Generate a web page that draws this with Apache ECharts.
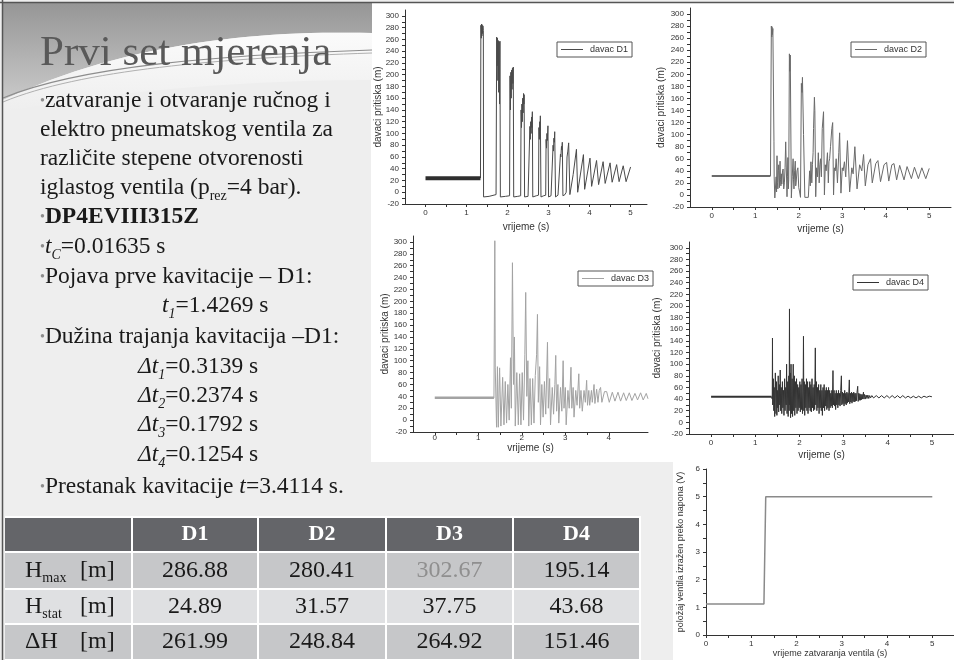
<!DOCTYPE html>
<html>
<head>
<meta charset="utf-8">
<title>Prvi set mjerenja</title>
<script src="https://cdn.jsdelivr.net/npm/echarts@6.0.0/dist/echarts.min.js"></script>
<style>
  html, body { margin: 0; padding: 0; background: #eeeeee; }
  #main { width: 954px; height: 660px; }
</style>
</head>
<body>
<div id="main"></div>
<script>
// ---- values ----
const legendNames = ['davac D1', 'davac D2', 'davac D3', 'davac D4'];

// static head before the valve closes (t, head in m)
const d1Static = [[0, 24], [1.34, 24]];
const d2Static = [[0, 31.5], [1.35, 31.5]];
const d3Static = [[0, 37.5], [1.36, 37.5]];
const d4Static = [[0, 44], [1.37, 44]];

// transient after closing, peaks / troughs
const d1Points = [
  [1.34, 24], [1.35, 284], [1.36, 262], [1.365, 286], [1.375, 266], [1.38, 285], [1.39, 270], [1.40, 283], [1.41, 275],
  [1.415, -8], [1.55, -7], [1.72, -4],
  [1.735, 264], [1.745, 215], [1.755, 262], [1.765, 190], [1.775, 258], [1.785, 170], [1.795, 256], [1.805, 150], [1.815, 257],
  [1.825, -8], [1.95, -7], [2.05, -6],
  [2.06, 198], [2.07, 140], [2.08, 204], [2.09, 160], [2.10, 208], [2.11, 175], [2.12, 211], [2.13, 185], [2.14, 213],
  [2.15, -8], [2.25, -7], [2.32, -6],
  [2.33, 140], [2.34, 110], [2.35, 150], [2.36, 120], [2.37, 160], [2.38, 135], [2.39, 168], [2.40, 150], [2.405, 166],
  [2.415, -8], [2.50, -7], [2.535, -6],
  [2.545, 112], [2.555, 90], [2.565, 120], [2.575, 100], [2.585, 128], [2.595, 110], [2.605, 137],
  [2.615, -8], [2.70, -6], [2.755, -5],
  [2.765, 110], [2.775, 90], [2.785, 120], [2.795, 105], [2.80, 130],
  [2.815, -8], [2.88, -6], [2.93, -5],
  [2.94, 90], [2.95, 75], [2.96, 100], [2.97, 88], [2.985, 113],
  [3.00, -8], [3.06, -6], [3.10, -4],
  [3.11, 80], [3.12, 70], [3.13, 92], [3.14, 85], [3.15, 103],
  [3.17, -8], [3.23, -5], [3.27, -2],
  [3.29, 65], [3.30, 60], [3.315, 78], [3.325, 72], [3.335, 85],
  [3.35, -6], [3.40, -4], [3.43, 0],
  [3.45, 60], [3.47, 70], [3.49, 84], [3.52, -4],
  [3.60, 30], [3.68, 73], [3.71, 0],
  [3.85, 64], [3.88, 5],
  [4.01, 58], [4.05, 10],
  [4.17, 54], [4.22, 13],
  [4.33, 52], [4.38, 15],
  [4.50, 50], [4.55, 17],
  [4.66, 47], [4.72, 18],
  [4.82, 45], [4.89, 18],
  [5.0, 43]
];

const d2Points = [
  [1.35, 31.5], [1.365, 30], [1.37, 280], [1.38, 262], [1.385, 279], [1.395, 266], [1.405, 276], [1.43, 88], [1.435, 30],
  [1.45, -5], [1.47, -4], [1.48, 30], [1.49, 5], [1.50, 65], [1.51, 20], [1.52, 10], [1.53, 40], [1.54, 50], [1.555, 12],
  [1.57, 56], [1.58, 25], [1.59, 15], [1.60, 35], [1.61, 18], [1.625, 38], [1.64, 43], [1.655, 10], [1.67, 20], [1.685, 45],
  [1.70, 88], [1.73, -3], [1.74, 30], [1.75, 62], [1.76, 10], [1.77, 25], [1.785, 234], [1.795, 205], [1.805, 232], [1.83, -5],
  [1.85, 30], [1.87, 60], [1.88, 25], [1.89, 10], [1.905, 40], [1.92, 56], [1.93, 15], [1.94, 20], [1.96, 40], [1.98, 45],
  [2.00, 12], [2.02, 5], [2.04, -4],
  [2.06, 185], [2.075, 170], [2.085, 195], [2.11, 100], [2.14, -4], [2.22, -4],
  [2.25, 40], [2.265, 15], [2.28, 55], [2.30, 20], [2.315, 50], [2.33, 70], [2.34, 110], [2.36, 162], [2.37, 140], [2.39, -3],
  [2.41, 45], [2.43, 30], [2.45, 70], [2.47, 20], [2.485, 50], [2.50, 60], [2.52, 30], [2.54, 110], [2.57, 138], [2.59, 0],
  [2.61, 50], [2.63, 40], [2.66, 70], [2.68, 20], [2.695, 55], [2.71, 60], [2.73, 80], [2.76, 110], [2.78, 120], [2.80, 0],
  [2.82, 45], [2.84, 40], [2.86, 60], [2.89, 20], [2.92, 70], [2.94, 103], [2.97, 3],
  [3.00, 45], [3.02, 40], [3.05, 55], [3.08, 30], [3.12, 90], [3.14, 88], [3.17, 5],
  [3.22, 45], [3.25, 35], [3.29, 80], [3.31, 78], [3.34, 10],
  [3.40, 50], [3.45, 40], [3.49, 67], [3.53, 15],
  [3.59, 50], [3.65, 60], [3.69, 20],
  [3.77, 52], [3.82, 57], [3.88, 22],
  [3.96, 50], [4.02, 54], [4.07, 23],
  [4.14, 50], [4.19, 52], [4.25, 25],
  [4.32, 49], [4.36, 51], [4.42, 25],
  [4.49, 47], [4.53, 48], [4.59, 27],
  [4.66, 46], [4.69, 47], [4.75, 27],
  [4.83, 45], [4.86, 46], [4.92, 27],
  [5.0, 44]
];

const d3Points = [
  [1.36, 37], [1.38, 302], [1.39, 88], [1.42, -12], [1.44, 90], [1.46, -12], [1.49, 88], [1.52, -10], [1.56, 72],
  [1.59, -8], [1.62, 65], [1.65, -5], [1.68, 60], [1.71, 0], [1.74, 105], [1.76, 20], [1.785, 265], [1.81, 60],
  [1.83, 140], [1.85, -10], [1.885, 80], [1.92, -8], [1.95, 78], [1.98, -8], [2.01, 80], [2.04, 0], [2.07, 110],
  [2.09, 215], [2.115, 40], [2.14, 100], [2.16, -10], [2.19, 70], [2.22, -8], [2.25, 70], [2.28, -5], [2.31, 75],
  [2.34, 110], [2.36, 178], [2.38, 30], [2.41, 90], [2.43, -8], [2.46, 60], [2.49, 5], [2.52, 65], [2.55, 10],
  [2.59, 131], [2.61, 20], [2.64, 70], [2.66, -8], [2.70, 55], [2.73, 10], [2.76, 60], [2.78, 109], [2.80, 15],
  [2.83, 60], [2.85, -5], [2.89, 55], [2.92, 15], [2.95, 100], [2.97, 20], [3.00, 55], [3.02, -8], [3.06, 50],
  [3.09, 20], [3.13, 89], [3.15, 20], [3.18, 55], [3.20, 5], [3.24, 50], [3.27, 25], [3.31, 78], [3.33, 20],
  [3.36, 50], [3.39, 15], [3.43, 50], [3.46, 30], [3.49, 67], [3.51, 25], [3.54, 50], [3.56, 25], [3.60, 50],
  [3.62, 30], [3.66, 60], [3.68, 28], [3.72, 52], [3.75, 30], [3.78, 50], [3.81, 55], [3.84, 30], [3.90, 48],
  [3.95, 48], [4.01, 30], [4.08, 47], [4.14, 32], [4.21, 47], [4.27, 32], [4.34, 46], [4.40, 33], [4.47, 46],
  [4.53, 33], [4.60, 45], [4.66, 34], [4.73, 46], [4.79, 34], [4.86, 45], [4.90, 36]
];

const d4Points = [
  [1.37, 44], [1.385, 40], [1.39, 145], [1.395, 30], [1.41, 75], [1.42, 20], [1.43, 60], [1.44, 10], [1.455, 85],
  [1.47, 15], [1.48, 70], [1.49, 12], [1.50, 55], [1.51, 25], [1.52, 80], [1.53, 18], [1.545, 65], [1.555, 30],
  [1.565, 90], [1.575, 20], [1.59, 60], [1.60, 15], [1.615, 70], [1.625, 25], [1.64, 55], [1.65, 12], [1.665, 75],
  [1.675, 20], [1.69, 60], [1.70, 30], [1.71, 100], [1.72, 15], [1.735, 70], [1.745, 10], [1.76, 80], [1.768, 20],
  [1.775, 195], [1.782, 30], [1.79, 85], [1.80, 8], [1.81, 100], [1.82, 15], [1.835, 75], [1.845, 10], [1.86, 100],
  [1.87, 20], [1.885, 80], [1.895, 12], [1.91, 70], [1.92, 25], [1.935, 75], [1.945, 15], [1.96, 65], [1.97, 20],
  [1.985, 60], [1.995, 25], [2.01, 70], [2.02, 18], [2.035, 65], [2.045, 22], [2.06, 75], [2.07, 15], [2.085, 60],
  [2.092, 148], [2.10, 20], [2.11, 70], [2.12, 12], [2.135, 65], [2.145, 25], [2.16, 75], [2.17, 20], [2.185, 70],
  [2.195, 15], [2.21, 60], [2.22, 25], [2.235, 70], [2.245, 20], [2.26, 65], [2.27, 18], [2.285, 75], [2.295, 25],
  [2.31, 60], [2.32, 20], [2.335, 65], [2.345, 22], [2.36, 128], [2.37, 30], [2.385, 70], [2.395, 20], [2.41, 60],
  [2.42, 25], [2.435, 65], [2.445, 15], [2.46, 55], [2.47, 25], [2.485, 65], [2.495, 20], [2.51, 55], [2.52, 12],
  [2.535, 60], [2.545, 25], [2.56, 65], [2.57, 20], [2.585, 55], [2.595, 28], [2.61, 60], [2.62, 22], [2.635, 55],
  [2.645, 25], [2.66, 60], [2.67, 20], [2.685, 55], [2.695, 25], [2.71, 50], [2.72, 28], [2.735, 55], [2.745, 25],
  [2.76, 89], [2.77, 30], [2.785, 55], [2.795, 28], [2.81, 50], [2.82, 22], [2.835, 55], [2.845, 30], [2.86, 50],
  [2.87, 25], [2.885, 55], [2.895, 30], [2.91, 50], [2.92, 28], [2.935, 55], [2.95, 80], [2.96, 30], [2.975, 52],
  [2.985, 32], [3.00, 50], [3.01, 28], [3.025, 55], [3.035, 32], [3.05, 50], [3.06, 30], [3.075, 52], [3.085, 33],
  [3.10, 50], [3.11, 35], [3.13, 73], [3.14, 32], [3.155, 50], [3.165, 35], [3.18, 52], [3.19, 33], [3.205, 50],
  [3.215, 36], [3.23, 52], [3.24, 35], [3.255, 50], [3.265, 36], [3.28, 50], [3.29, 37], [3.305, 52], [3.32, 62],
  [3.33, 36], [3.345, 50], [3.355, 38], [3.37, 49], [3.38, 38], [3.395, 48], [3.405, 39], [3.42, 48], [3.43, 40],
  [3.45, 52], [3.46, 40], [3.475, 48], [3.49, 40], [3.51, 47], [3.53, 41], [3.55, 47], [3.57, 41], [3.59, 46],
  [3.61, 42], [3.64, 46], [3.68, 42], [3.74, 46], [3.80, 42], [3.86, 46], [3.92, 42], [3.98, 46], [4.04, 42],
  [4.10, 46], [4.16, 42], [4.22, 46], [4.28, 42], [4.34, 46], [4.40, 42], [4.46, 45], [4.52, 42], [4.58, 45],
  [4.64, 42], [4.70, 45], [4.76, 42], [4.82, 45], [4.88, 43], [4.94, 45], [5.0, 44]
];

// valve position signal (V)
const valveVoltage = [[0, 1.12], [1.28, 1.12], [1.30, 1.15], [1.32, 5.0], [5.0, 5.0]];

// axis tick labels
const pressureLabels = [-20, 0, 20, 40, 60, 80, 100, 120, 140, 160, 180, 200, 220, 240, 260, 280, 300];
const timeLabels = [0, 1, 2, 3, 4, 5];
const timeLabelsD3 = [0, 1, 2, 3, 4];
const voltageLabels = [0, 1, 2, 3, 4, 5, 6];

// table
const tableColumns = ['D1', 'D2', 'D3', 'D4'];
const tableRowLabels = ['H{s|max}', 'H{s|stat}', 'ΔH'];
const hMax = [286.88, 280.41, 302.67, 195.14];
const hStat = [24.89, 31.57, 37.75, 43.68];
const deltaH = [261.99, 248.84, 264.92, 151.46];

// slide text
const slideTitle = 'Prvi set mjerenja';
const bulletText = [
  '{b|•}zatvaranje i otvaranje ručnog i',
  'elektro pneumatskog ventila za',
  'različite stepene otvorenosti',
  'iglastog ventila (p{s|rez}=4 bar).',
  '{b|•}{bd|DP4EVIII315Z}',
  '{b|•}{i|t}{si|C}=0.01635 s',
  '{b|•}Pojava prve kavitacije – D1:',
  '{i|t}{si|1}=1.4269 s',
  '{b|•}Dužina trajanja kavitacija –D1:',
  '{i|Δt}{si|1}=0.3139 s',
  '{i|Δt}{si|2}=0.2374 s',
  '{i|Δt}{si|3}=0.1792 s',
  '{i|Δt}{si|4}=0.1254 s',
  '{b|•}Prestanak kavitacije {i|t}=3.4114 s.'
];

// ---- layout ----
const SERIF = '"Liberation Serif", "Times New Roman", serif';
const SANS = '"Liberation Sans", Arial, sans-serif';
const bulletPos = [[40, 101], [40, 130], [40, 159], [40, 188], [40, 217], [40, 247], [40, 277],
  [162, 306], [40, 337], [138, 367], [138, 396], [138, 425], [138, 455], [40, 487]];

const grids = [
  { left: 405, top: 10, width: 242, height: 194 },
  { left: 690, top: 8, width: 261, height: 199 },
  { left: 413, top: 236, width: 235, height: 196 },
  { left: 689, top: 242, width: 265, height: 192 },
  { left: 706, top: 469, width: 248, height: 166 }
];

function halfSteps(labels, step) {
  const out = [];
  labels.forEach(v => { out.push(v); out.push(v + step); });
  return out.filter(v => v <= labels[labels.length - 1]);
}

// points along a cubic bezier, for the decorative title swoosh
function bezier(p0, p1, p2, p3, n) {
  const pts = [];
  for (let k = 0; k <= n; k++) {
    const t = k / n, u = 1 - t;
    pts.push([
      u * u * u * p0[0] + 3 * u * u * t * p1[0] + 3 * u * t * t * p2[0] + t * t * t * p3[0],
      u * u * u * p0[1] + 3 * u * u * t * p1[1] + 3 * u * t * t * p2[1] + t * t * t * p3[1]
    ]);
  }
  return pts;
}

const axisText = { fontSize: 8, color: '#333', fontFamily: SANS };
const nameText = { fontSize: 10, color: '#333', fontFamily: SANS };

function xAxisFor(i, min, max, labels, gap, name, nameSize, labelMargin) {
  return {
    type: 'value', gridIndex: i, min: min, max: max,
    axisLine: { onZero: false, lineStyle: { color: '#333', width: 1 } },
    axisTick: { customValues: halfSteps(labels, 0.5), length: 3, lineStyle: { color: '#333' } },
    axisLabel: Object.assign({ customValues: labels, margin: labelMargin || 5 }, axisText),
    splitLine: { show: false },
    name: name, nameLocation: 'middle', nameGap: gap, nameMoveOverlap: false,
    nameTextStyle: Object.assign({}, nameText, { fontSize: nameSize || 10 })
  };
}

function yAxisFor(i, min, max, labels, step, gap, name, nameSize) {
  return {
    type: 'value', gridIndex: i, min: min, max: max,
    axisLine: { onZero: false, lineStyle: { color: '#333', width: 1 } },
    axisTick: { customValues: halfSteps(labels, step), length: 3, lineStyle: { color: '#333' } },
    axisLabel: Object.assign({ customValues: labels, margin: 6 }, axisText),
    splitLine: { show: false },
    name: name, nameLocation: 'middle', nameRotate: 90, nameGap: gap, nameMoveOverlap: false,
    nameTextStyle: Object.assign({}, nameText, { fontSize: nameSize || 10 })
  };
}

function lineSeries(name, data, idx, color, width) {
  return {
    name: name, type: 'line', xAxisIndex: idx, yAxisIndex: idx, data: data,
    showSymbol: false, symbol: 'none', silent: true, animation: false,
    lineStyle: { color: color, width: width }, itemStyle: { color: color }, z: 3
  };
}

function legendBox(name, left, top) {
  return {
    data: [name], left: left, top: top, icon: 'rect', itemWidth: 22, itemHeight: 1, itemGap: 0,
    padding: [3, 4], borderColor: '#555', borderWidth: 1, backgroundColor: '#fff', selectedMode: false,
    textStyle: { fontSize: 9, color: '#333', fontFamily: SANS, padding: [0, 0, 0, 2] }
  };
}

const richText = {
  b: { fill: '#8c8c8c', fontSize: 14, fontFamily: SERIF, lineHeight: 30 },
  bd: { fill: '#1a1a1a', fontSize: 23.5, fontWeight: 'bold', fontFamily: SERIF, lineHeight: 30 },
  i: { fill: '#1a1a1a', fontSize: 23.5, fontStyle: 'italic', fontFamily: SERIF, lineHeight: 30 },
  s: { fill: '#1a1a1a', fontSize: 14, fontFamily: SERIF, lineHeight: 16, verticalAlign: 'bottom' },
  si: { fill: '#1a1a1a', fontSize: 14, fontStyle: 'italic', fontFamily: SERIF, lineHeight: 16, verticalAlign: 'bottom' }
};

// ---- slide decoration and table as graphic elements ----
const elements = [];

// white picture areas behind the plots
elements.push({ type: 'rect', z: -5, shape: { x: 371, y: 3, width: 583, height: 459 }, style: { fill: '#ffffff' } });
elements.push({ type: 'rect', z: -5, shape: { x: 673, y: 462, width: 281, height: 198 }, style: { fill: '#ffffff' } });

// title band: grey above the swoosh, light below it
const swooshTop = bezier([3, 100], [120, 45], [250, 30], [372, 33], 30);
const swooshLow = bezier([372, 80], [250, 80], [120, 90], [3, 112], 30);
elements.push({
  type: 'polygon', z: -4,
  shape: { points: [[3, 3], [372, 3]].concat(swooshTop.slice().reverse()) },
  style: { fill: new echarts.graphic.LinearGradient(0, 0, 0, 1, [
    { offset: 0, color: '#969696' }, { offset: 1, color: '#c9c9c9' }]) }
});
elements.push({
  type: 'polygon', z: -4,
  shape: { points: swooshTop.concat(swooshLow) },
  style: { fill: new echarts.graphic.LinearGradient(0, 0, 0, 1, [
    { offset: 0, color: '#fbfbfb' }, { offset: 1, color: '#eeeeee' }]) }
});
elements.push({ type: 'bezierCurve', z: -3,
  shape: { x1: 3, y1: 98, cpx1: 80, cpy1: 66, cpx2: 220, cpy2: 55, x2: 372, y2: 50 },
  style: { fill: null, stroke: '#8d8d8d', lineWidth: 1.2 } });
elements.push({ type: 'bezierCurve', z: -3,
  shape: { x1: 3, y1: 102, cpx1: 80, cpy1: 70, cpx2: 220, cpy2: 58, x2: 372, y2: 53 },
  style: { fill: null, stroke: '#b0b0b0', lineWidth: 1 } });

// slide frame
elements.push({ type: 'line', z: 10, shape: { x1: 0, y1: 2.5, x2: 954, y2: 2.5 }, style: { stroke: '#555', lineWidth: 1.5 } });
elements.push({ type: 'line', z: 10, shape: { x1: 2.5, y1: 0, x2: 2.5, y2: 660 }, style: { stroke: '#555', lineWidth: 1.5 } });

// title
elements.push({
  type: 'text', x: 40, y: 54, z: 5,
  style: { text: slideTitle, fill: '#595959', font: '43px ' + SERIF, verticalAlign: 'middle', align: 'left' }
});

// bullet lines
bulletText.forEach((t, k) => {
  elements.push({
    type: 'text', x: bulletPos[k][0], y: bulletPos[k][1], z: 5,
    style: {
      text: t, fill: '#1a1a1a', font: '23.5px ' + SERIF, lineHeight: 30,
      verticalAlign: 'middle', align: 'left', rich: richText
    }
  });
});

// table
const colX = [5, 133, 259, 387, 514, 641];
const rowY = [518, 553, 590, 625, 661];
const rowFill = ['#c6c7c9', '#dfe0e2', '#c6c7c9'];
const tableRows = [hMax, hStat, deltaH];
elements.push({ type: 'rect', z: 1, shape: { x: 5, y: 516, width: 636, height: 144 }, style: { fill: '#ffffff' } });
for (let c = 0; c < 5; c++) {
  const w = colX[c + 1] - colX[c] - 2;
  elements.push({ type: 'rect', z: 2, shape: { x: colX[c], y: rowY[0], width: w, height: rowY[1] - rowY[0] - 2 },
    style: { fill: '#646569' } });
  if (c > 0) {
    elements.push({
      type: 'text', z: 3, x: colX[c] + w / 2, y: (rowY[0] + rowY[1] - 2) / 2,
      style: { text: tableColumns[c - 1], fill: '#ffffff', font: 'bold 22px ' + SERIF, align: 'center', verticalAlign: 'middle' }
    });
  }
  for (let r = 0; r < 3; r++) {
    const y0 = rowY[r + 1], h = rowY[r + 2] - rowY[r + 1] - 2;
    elements.push({ type: 'rect', z: 2, shape: { x: colX[c], y: y0, width: w, height: h }, style: { fill: rowFill[r] } });
    if (c === 0) {
      elements.push({
        type: 'text', z: 3, x: 25, y: y0 + h / 2,
        style: { text: tableRowLabels[r], fill: '#1a1a1a', font: '24px ' + SERIF, lineHeight: 30,
          align: 'left', verticalAlign: 'middle', rich: richText }
      });
      elements.push({
        type: 'text', z: 3, x: 80, y: y0 + h / 2,
        style: { text: '[m]', fill: '#1a1a1a', font: '24px ' + SERIF, align: 'left', verticalAlign: 'middle' }
      });
    } else {
      const muted = (r === 0 && c === 3);
      elements.push({
        type: 'text', z: 3, x: colX[c] + w / 2, y: y0 + h / 2,
        style: { text: tableRows[r][c - 1].toFixed(2), fill: muted ? '#8f8f8f' : '#1a1a1a',
          font: '24px ' + SERIF, align: 'center', verticalAlign: 'middle' }
      });
    }
  }
}

const option = {
  backgroundColor: '#eeeeee',
  animation: false,
  grid: grids.map(g => Object.assign({ outerBoundsMode: 'none', containLabel: false }, g)),
  xAxis: [
    xAxisFor(0, -0.5, 5.4, timeLabels, 18, 'vrijeme (s)'),
    xAxisFor(1, -0.5, 5.5, timeLabels, 17, 'vrijeme (s)'),
    xAxisFor(2, -0.5, 4.9, timeLabelsD3, 11, 'vrijeme (s)', 10, 2),
    xAxisFor(3, -0.5, 5.5, timeLabels, 16, 'vrijeme (s)'),
    xAxisFor(4, 0, 5.48, timeLabels, 14, 'vrijeme zatvaranja ventila (s)', 9)
  ],
  yAxis: [
    yAxisFor(0, -20, 310, pressureLabels, 10, 22, 'davaci pritiska (m)'),
    yAxisFor(1, -20, 310, pressureLabels, 10, 24, 'davaci pritiska (m)'),
    yAxisFor(2, -20, 310, pressureLabels, 10, 23, 'davaci pritiska (m)'),
    yAxisFor(3, -20, 310, pressureLabels, 10, 27, 'davaci pritiska (m)'),
    yAxisFor(4, 0, 6, voltageLabels, 0.5, 21, 'položaj ventila izražen preko napona (V)', 9)
  ],
  legend: [
    legendBox(legendNames[0], 557, 42),
    legendBox(legendNames[1], 851, 42),
    legendBox(legendNames[2], 578, 271),
    legendBox(legendNames[3], 853, 275)
  ],
  series: [
    lineSeries(legendNames[0], d1Points, 0, '#4a4a4a', 1),
    lineSeries(legendNames[0], d1Static, 0, '#2e2e2e', 4),
    lineSeries(legendNames[1], d2Points, 1, '#6a6a6a', 1),
    lineSeries(legendNames[1], d2Static, 1, '#6a6a6a', 2),
    lineSeries(legendNames[2], d3Points, 2, '#a3a3a3', 1),
    lineSeries(legendNames[2], d3Static, 2, '#a3a3a3', 2.5),
    lineSeries(legendNames[3], d4Points, 3, '#333333', 1),
    lineSeries(legendNames[3], d4Static, 3, '#333333', 2),
    lineSeries('napon', valveVoltage, 4, '#8a8a8a', 1.5)
  ],
  graphic: { elements: elements }
};

const chart = echarts.init(document.getElementById('main'));
chart.setOption(option);
</script>
</body>
</html>
